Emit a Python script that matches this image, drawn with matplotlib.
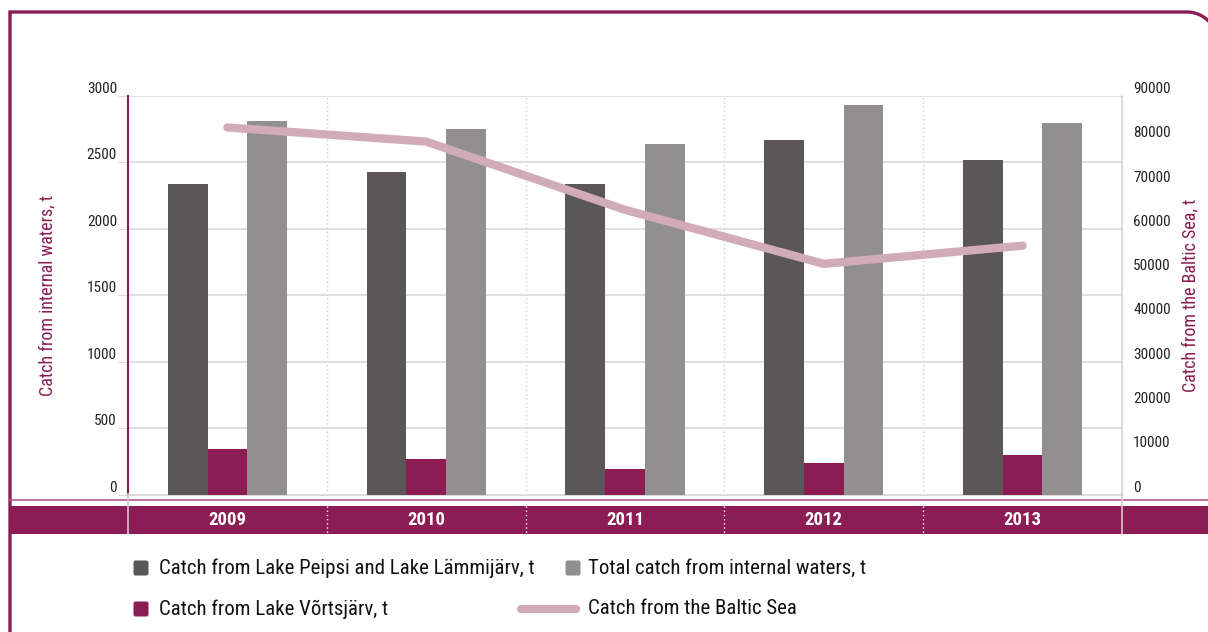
import numpy as np
import matplotlib
matplotlib.use("Agg")
import matplotlib.pyplot as plt
from matplotlib import font_manager
from matplotlib.patches import Rectangle, FancyBboxPatch
from matplotlib.lines import Line2D

years = ["2009", "2010", "2011", "2012", "2013"]
peipsi = [2340, 2425, 2335, 2670, 2515]
vortsjarv = [340, 265, 190, 235, 300]
total_internal = [2810, 2755, 2640, 2935, 2800]
baltic = [82900, 79700, 64300, 52100, 56200]

left_ticks = [0, 500, 1000, 1500, 2000, 2500, 3000]
right_ticks = [0, 10000, 20000, 30000, 40000, 50000, 60000, 70000, 80000, 90000]

labels = ["Catch from Lake Peipsi and Lake Lämmijärv, t",
          "Total catch from internal waters, t",
          "Catch from Lake Võrtsjärv, t",
          "Catch from the Baltic Sea"]

DARK = "#5b5657"
LIGHT = "#918f90"
PURPLE = "#8b1c54"
PINK = "#d2abb8"
GRID = "#d9d9d9"

names = {f.name for f in font_manager.fontManager.ttflist}
font = "DejaVu Sans"
for cand in ["Liberation Sans Narrow", "Roboto Condensed", "Open Sans Condensed"]:
    if cand in names:
        font = cand
        break
plt.rcParams["font.family"] = [font, "DejaVu Sans"]
stretch = "normal" if font != "DejaVu Sans" else "condensed"
plt.rcParams["font.stretch"] = stretch

W, H = 1208, 632
fig = plt.figure(figsize=(W / 100, H / 100), dpi=100)


def fx(x):
    return x / W


def fy(y):
    return 1 - y / H


# pixel overlay for the frame / band
bg = fig.add_axes([0, 0, 1, 1], zorder=-5)
bg.set_xlim(0, W)
bg.set_ylim(H, 0)
bg.axis("off")
r, cx0, cy0 = 30, 1187, 42
ang = np.linspace(-np.pi / 2, 0, 30)
frame_x = np.concatenate([[10, 10], cx0 + r * np.cos(ang), [cx0 + r, cx0 + r]])
frame_y = np.concatenate([[H + 10, 12], cy0 + r * np.sin(ang), [cy0, H + 10]])
bg.plot(frame_x, frame_y, color=PURPLE, lw=2.4, solid_joinstyle="miter")
bg.add_patch(Rectangle((10, 506), W, 28, color=PURPLE, lw=0))
bg.plot([10, W], [500, 500], color="#b05a85", lw=1.2)

ax = fig.add_axes([fx(128), fy(494.5), fx(1122) - fx(128), fy(96) - fy(494.5)])
x = np.arange(len(years))
w = 0.2
ax.bar(x - w, peipsi, w, color=DARK, zorder=3)
ax.bar(x, vortsjarv, w, color=PURPLE, zorder=3)
ax.bar(x + w, total_internal, w, color=LIGHT, zorder=3)
ax.set_xlim(-0.5, len(years) - 0.5)
ax.set_ylim(0, 3000)
ax.set_yticks(left_ticks)
ax.set_yticklabels([str(t) for t in left_ticks], fontsize=11, color="#222222")
for t in ax.get_yticklabels():
    t.set_verticalalignment("bottom")
ax.tick_params(axis="y", length=7, color=GRID, pad=1)
ax.set_xticks([])
ax.grid(axis="y", color=GRID, lw=1.2, zorder=0)
for b in np.arange(0.5, len(years) - 0.5):
    ax.axvline(b, color="#cccccc", lw=1, ls=(0, (1, 2)), zorder=1)
ax.spines["left"].set_color(PURPLE)
ax.spines["left"].set_linewidth(1.5)
ax.spines["top"].set_visible(False)
ax.spines["bottom"].set_color(GRID)
ax.spines["right"].set_color(GRID)
ax.set_ylabel("Catch from internal waters, t", color=PURPLE, fontsize=13, labelpad=22)

ax2 = ax.twinx()
ax2.plot(x, baltic, color=PINK, lw=6, solid_capstyle="round", solid_joinstyle="round", zorder=5)
ax2.set_ylim(0, 90000)
ax2.set_yticks(right_ticks)
ax2.set_yticklabels([str(t) for t in right_ticks], fontsize=11, color="#222222")
for t in ax2.get_yticklabels():
    t.set_verticalalignment("bottom")
ax2.tick_params(axis="y", length=0, pad=8)
for s in ["top", "left", "bottom"]:
    ax2.spines[s].set_visible(False)
ax2.spines["right"].set_color(GRID)
ax2.spines["right"].set_linewidth(1.2)
ax2.set_ylabel("Catch from the Baltic Sea, t", color=PURPLE, fontsize=13, labelpad=8)

# year band labels
trans = matplotlib.transforms.blended_transform_factory(ax.transData, fig.transFigure)
for i, yr in enumerate(years):
    ax.text(i, fy(520), yr, transform=trans, ha="center", va="center", color="white",
            fontsize=13.5, fontweight="bold", clip_on=False)
for b in np.arange(0.5, len(years) - 0.5):
    fig.add_artist(Line2D([b, b], [fy(506), fy(534)], transform=trans, color="white",
                          lw=1, ls=(0, (1, 2))))
for b in [-0.5, len(years) - 0.5]:
    fig.add_artist(Line2D([b, b], [fy(494), fy(534)], transform=trans, color="#cccccc", lw=1.2))

# legend
sq = 15
entries = [(141, 568, DARK, labels[0], 159), (573, 568, LIGHT, labels[1], 588),
           (141, 609, PURPLE, labels[2], 159)]
for cx, cy, c, lab, tx in entries:
    bg.add_patch(FancyBboxPatch((cx - sq / 2, cy - sq / 2), sq, sq,
                                boxstyle="round,pad=0,rounding_size=2", color=c, lw=0))
    bg.text(tx, cy, lab, va="center", ha="left", fontsize=15, color="#111111")
bg.plot([521, 576], [609, 609], color=PINK, lw=6, solid_capstyle="round")
bg.text(588, 609, labels[3], va="center", ha="left", fontsize=15, color="#111111")

fig.savefig("out.png", dpi=100)
